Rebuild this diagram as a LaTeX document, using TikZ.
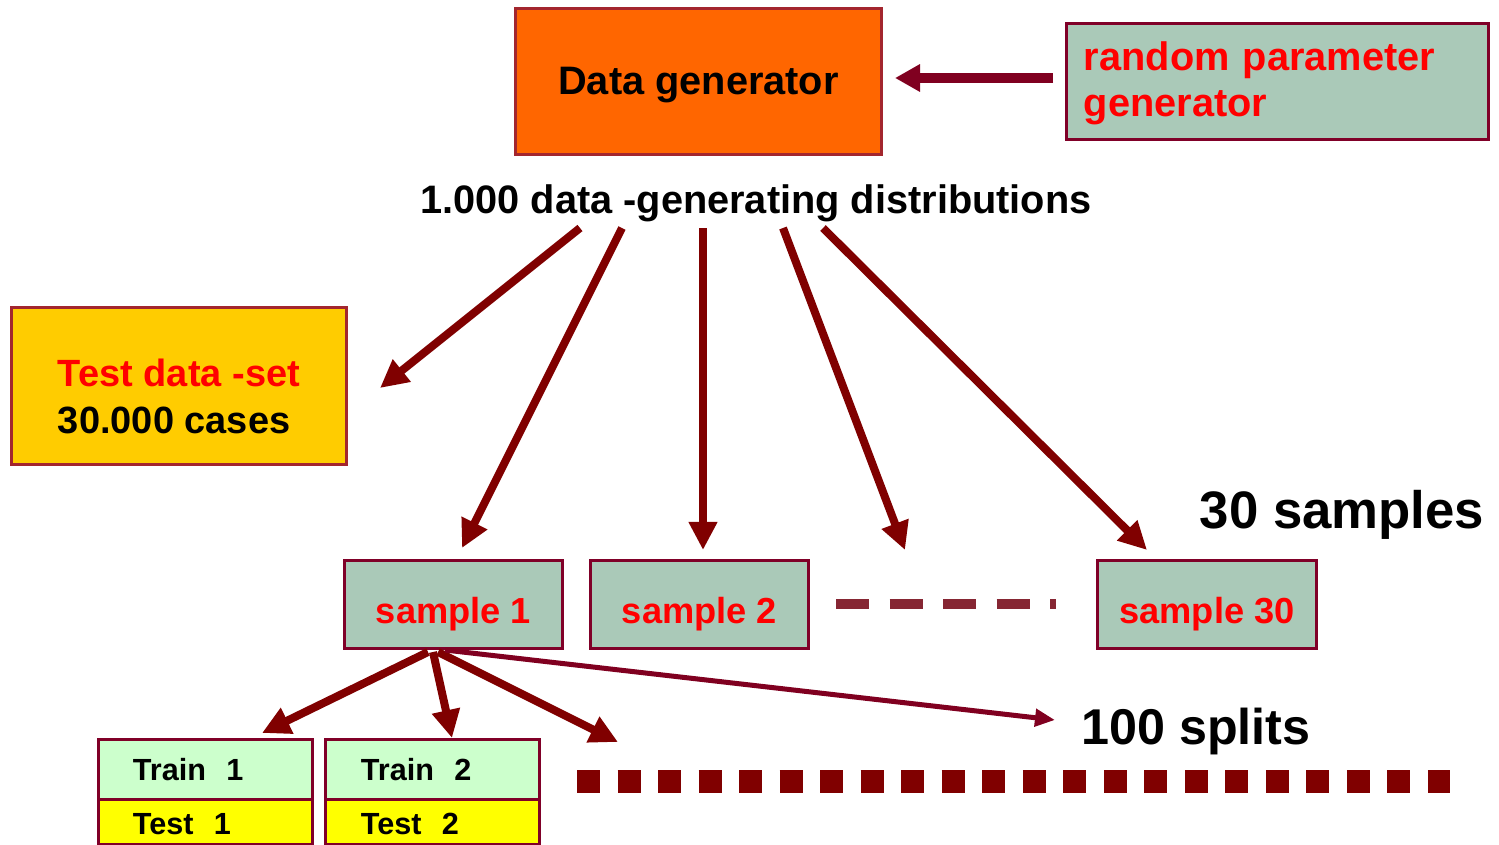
\documentclass[tikz,border=0pt]{standalone}
\usepackage{fontspec}
\setmainfont{Liberation Sans}
\usetikzlibrary{arrows.meta}

\definecolor{genorange}{HTML}{FF6600}
\definecolor{sagegreen}{HTML}{AAC9B8}
\definecolor{testgold}{HTML}{FFCC00}
\definecolor{trainmint}{HTML}{CCFFCC}
\definecolor{testyellow}{HTML}{FFFF00}
\definecolor{rimred}{HTML}{A3262E}
\definecolor{rimwine}{HTML}{800028}
\definecolor{arrowred}{HTML}{800000}
\definecolor{arrowwine}{HTML}{800020}
\definecolor{dashwine}{HTML}{862633}

\begin{document}
\begin{tikzpicture}[x=0.01cm,y=-0.01cm,
    box/.style={line width=0.03cm, inner sep=0pt},
    txt/.style={font=\fontsize{11.3}{13.1}\selectfont\bfseries},
    big/.style={font=\fontsize{15}{17}\selectfont\bfseries},
    sample/.style={box, draw=rimwine, fill=sagegreen, text=red,
        minimum width=2.17cm, minimum height=0.87cm, text height=0.37cm,
        text depth=0pt, font=\fontsize{10.3}{12}\selectfont\bfseries},
    fat/.style={draw=arrowred, line width=0.08cm,
        -{Triangle[length=0.28cm,width=0.27cm]}},
]
\useasboundingbox (0,0) rectangle (1499,845);

% top row
\node[box, draw=rimred, fill=genorange, minimum width=3.65cm,
    minimum height=1.45cm, text height=0.26cm, text depth=0pt, txt]
    (gen) at (698.5,81.5) {Data generator};
\node[box, draw=rimwine, fill=sagegreen, text=red, txt, align=left,
    text width=3.87cm, inner xsep=0.17cm, minimum height=1.15cm]
    (rpg) at (1277.5,81.5) {};
\node[txt, text=red, align=left, text width=3.87cm] (rpgtxt)
    at (1277.5,83.5) {random parameter\\generator};
\coordinate (rpgout) at (1053,78);
\coordinate (genin) at (895,78);
\draw[arrowwine, line width=0.1cm, -{Triangle[length=0.25cm,width=0.26cm]}]
    (rpgout) -- (genin);

\node[txt] (dist) at (756,203) {1.000 data -generating distributions};

% test set and samples
\node[box, draw=rimred, fill=testgold, minimum width=3.34cm,
    minimum height=1.56cm] (testset) at (179,386) {};
\node[align=left, font=\fontsize{10.8}{13.4}\selectfont\bfseries]
    (testtxt) at (179,396.5) {\textcolor{red}{Test data -set}\\30.000 cases};
\node[sample] (s1) at (453.5,604.5) {sample 1};
\node[sample] (s2) at (699.5,604.5) {sample 2};
\node[sample, minimum width=2.18cm] (s30) at (1207,604.5) {sample 30};
\node[big] (nsamp) at (1342,515) {30 samples};
\draw[dashwine, line width=0.1cm, dash pattern=on 0.33cm off 0.205cm]
    (836,604) -- (1056,604);

% fan out of the distributions
\coordinate (d1) at (580,228);
\coordinate (d2) at (622,228);
\coordinate (d3) at (703,228);
\coordinate (d4) at (783,228);
\coordinate (d5) at (823,228);
\coordinate (testin) at (380,388);
\coordinate (s1in) at (462,548);
\coordinate (s2in) at (703,550);
\coordinate (dashin) at (905,550);
\coordinate (s30in) at (1147,550);
\draw[fat] (d1) -- (testin);
\draw[fat] (d2) -- (s1in);
\draw[fat] (d3) -- (s2in);
\draw[fat] (d4) -- (dashin);
\draw[fat] (d5) -- (s30in);

% splits
\node[box, draw=rimwine, fill=trainmint, minimum height=0.6cm, align=left,
    text width=1.45cm, inner xsep=0.34cm,
    font=\fontsize{8.7}{10}\selectfont\bfseries]
    (tr1) at (205.5,770) {Train~~1};
\node[box, draw=rimwine, fill=testyellow, minimum height=0.44cm, align=left,
    text width=1.45cm, inner xsep=0.34cm, text height=0.24cm, text depth=0pt,
    font=\fontsize{8.7}{10}\selectfont\bfseries]
    (te1) at (205.5,822) {Test~~1};
\node[box, draw=rimwine, fill=trainmint, minimum height=0.6cm, align=left,
    text width=1.43cm, inner xsep=0.35cm,
    font=\fontsize{8.7}{10}\selectfont\bfseries]
    (tr2) at (432.5,770) {Train~~2};
\node[box, draw=rimwine, fill=testyellow, minimum height=0.44cm, align=left,
    text width=1.43cm, inner xsep=0.35cm, text height=0.24cm, text depth=0pt,
    font=\fontsize{8.7}{10}\selectfont\bfseries]
    (te2) at (432.5,822) {Test~~2};
\node[big, font=\fontsize{14.3}{17}\selectfont\bfseries] (nsplit)
    at (1196,731) {100 splits};
\draw[arrowred, line width=0.23cm, dash pattern=on 0.23cm off 0.175cm]
    (577,781) -- (1450,781);

\coordinate (f1) at (428,652);
\coordinate (f2) at (433,652);
\coordinate (f3) at (438,652);
\coordinate (f4) at (445,650);
\coordinate (tr1in) at (262,733);
\coordinate (tr2in) at (452,738);
\coordinate (morein) at (618,742);
\coordinate (splitin) at (1055,720);
\draw[fat] (f1) -- (tr1in);
\draw[fat] (f2) -- (tr2in);
\draw[fat] (f3) -- (morein);
\draw[arrowwine, line width=0.05cm, -{Triangle[length=0.2cm,width=0.17cm]}]
    (f4) -- (splitin);
\end{tikzpicture}
\end{document}
